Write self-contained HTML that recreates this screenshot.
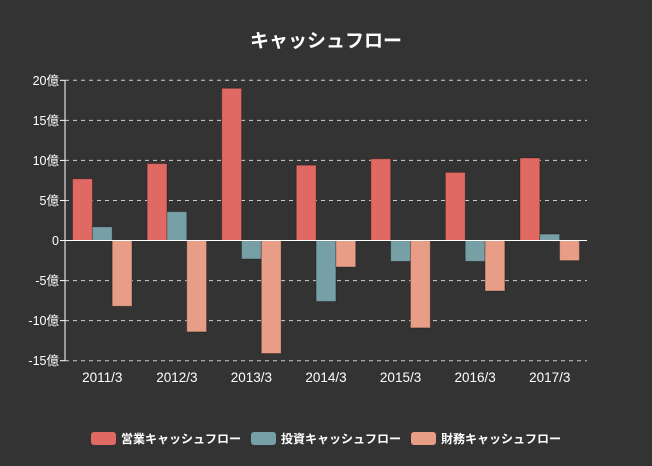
<!DOCTYPE html>
<html><head><meta charset="utf-8">
<style>
html,body{margin:0;padding:0;background:#333333;}
body{width:652px;height:461px;overflow:hidden;font-family:"Liberation Sans","Noto Sans CJK JP",sans-serif;}
svg text{font-family:"Liberation Sans","Noto Sans CJK JP",sans-serif;}
</style></head>
<body>
<svg id="chart" width="652" height="461" xmlns="http://www.w3.org/2000/svg">
<rect width="652" height="461" fill="#333333"/>
<text x="326" y="47" text-anchor="middle" fill="#ffffff" font-size="19" font-weight="bold">キャッシュフロー</text>
<g id="grid"></g>
<g id="bars"></g>
<g id="axes"></g>
<g id="legend"></g>
</svg>
<script>
const categories = ["2011/3","2012/3","2013/3","2014/3","2015/3","2016/3","2017/3"];
const operatingCF = [7.7, 9.6, 19.0, 9.4, 10.2, 8.5, 10.3];
const investingCF = [1.7, 3.6, -2.3, -7.6, -2.6, -2.6, 0.8];
const financingCF = [-8.2, -11.4, -14.1, -3.3, -10.9, -6.3, -2.5];
const seriesNames = ["営業キャッシュフロー","投資キャッシュフロー","財務キャッシュフロー"];
const yTicks = [20, 15, 10, 5, 0, -5, -10, -15];
const yTickLabels = ["20億","15億","10億","5億","0","-5億","-10億","-15億"];

const NS = "http://www.w3.org/2000/svg";
const colors = ["#e06a63","#77a0a6","#e89d87"];
const X0 = 65, X1 = 587, Y_TOP = 80.3, Y_BOT = 360.7, VMAX = 20, VMIN = -15;
function y(v){ return Y_TOP + (VMAX - v) / (VMAX - VMIN) * (Y_BOT - Y_TOP); }
const band = (X1 - X0) / categories.length;
function x(i){ return X0 + i * band; }
function mk(tag, attrs, parent){ const e = document.createElementNS(NS, tag); for (const k in attrs) e.setAttribute(k, attrs[k]); parent.appendChild(e); return e; }

const grid = document.getElementById("grid");
const axes = document.getElementById("axes");
yTicks.forEach((t, i) => {
  if (t !== 0) {
    const l = mk("line", {x1: X0, x2: X1, y1: y(t), y2: y(t), stroke: "#cfcfcf", "stroke-width": 1, "stroke-dasharray": "4,4"}, grid);
    
    
  }
  const tk = mk("line", {x1: X0 - 5, x2: X0, y1: y(t), y2: y(t), stroke: "#ffffff", "stroke-width": 1}, axes);
  
  
  const tx = mk("text", {x: X0 - 6, y: y(t) + 4.5, "text-anchor": "end", fill: "#ffffff", "font-size": 12.5}, axes);
  tx.textContent = yTickLabels[i];
  
  
});

const bars = document.getElementById("bars");
const series = [operatingCF, investingCF, financingCF];
const bw = 19.8, pad = (band - 3 * bw) / 2;
categories.forEach((c, i) => {
  series.forEach((s, j) => {
    const v = s[i];
    const bx = x(i) + pad + j * bw;
    const y0 = y(0), yv = y(v);
    const r = mk("rect", {x: bx, y: Math.min(y0, yv), width: bw, height: Math.abs(yv - y0), fill: colors[j], stroke: "rgba(0,0,0,0.25)", "stroke-width": 1}, bars);
    
    
  });
  const lab = mk("text", {x: x(i) + band / 2, y: 382, "text-anchor": "middle", fill: "#ffffff", "font-size": 13.5}, axes);
  lab.textContent = c;
  
  
});

const zl = mk("line", {x1: X0, x2: X1, y1: y(0), y2: y(0), stroke: "#ffffff", "stroke-width": 1}, axes);


const ya = mk("line", {x1: X0, x2: X0, y1: Y_TOP, y2: Y_BOT, stroke: "#ffffff", "stroke-width": 1}, axes);



const legend = document.getElementById("legend");
const lx = [91, 251, 411];
seriesNames.forEach((n, j) => {
  const g = mk("g", {}, legend);
  
  
  mk("rect", {x: lx[j], y: 432, width: 25, height: 13, rx: 3, fill: colors[j]}, g);
  const t = mk("text", {x: lx[j] + 30, y: 443, fill: "#ffffff", "font-size": 12, "font-weight": "bold"}, g);
  t.textContent = n;
});
</script>
</body></html>
